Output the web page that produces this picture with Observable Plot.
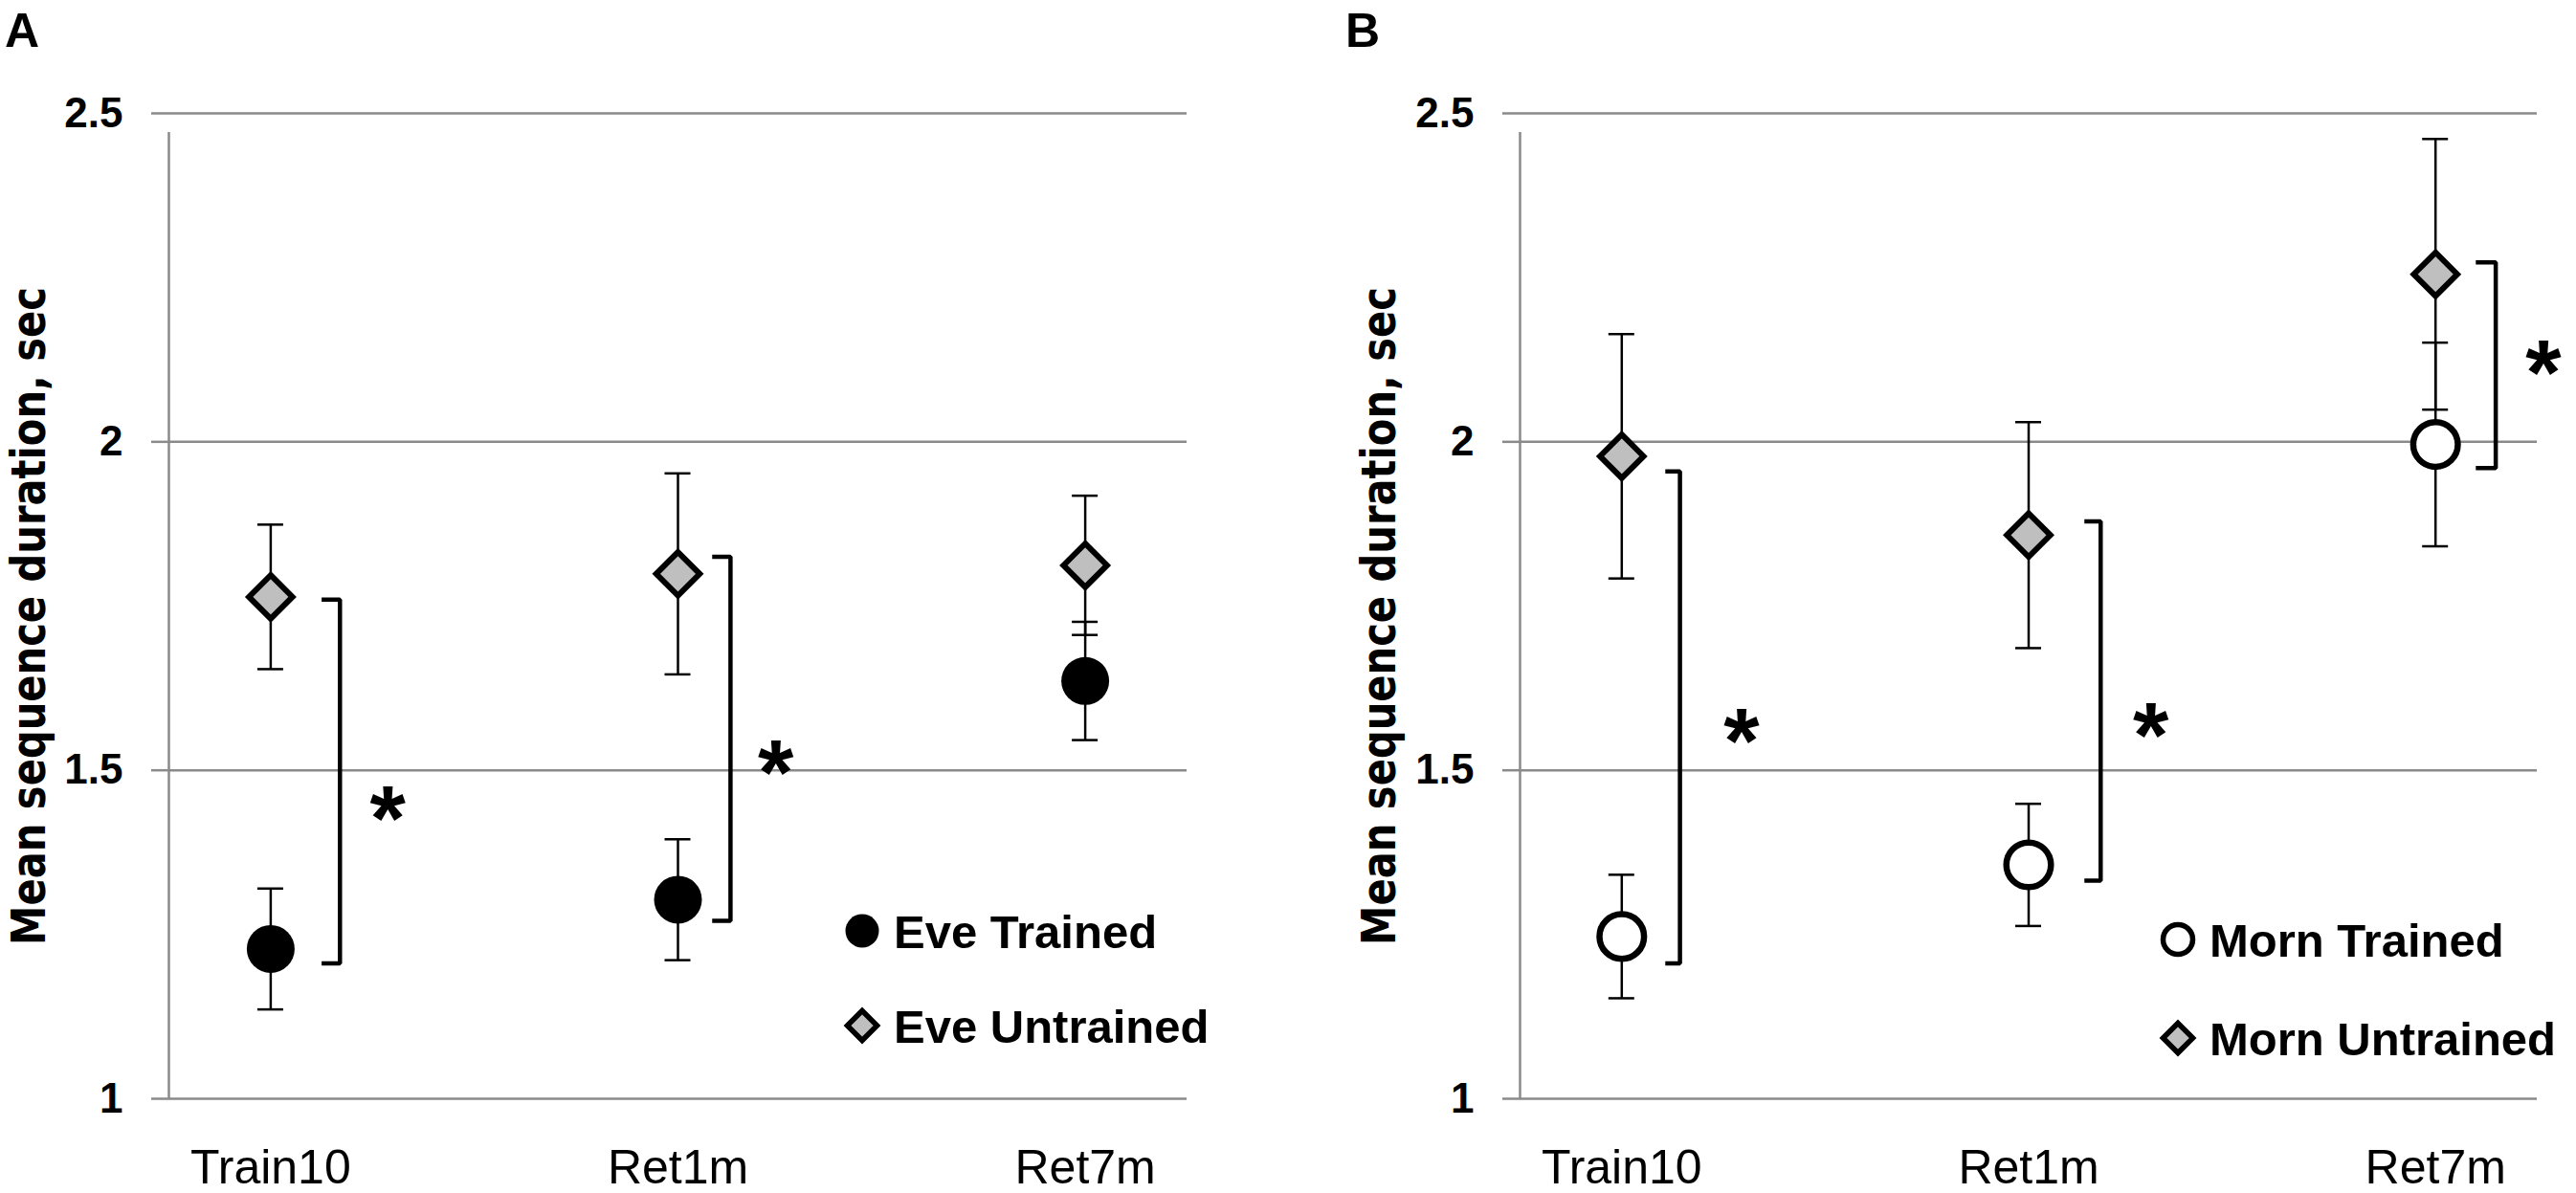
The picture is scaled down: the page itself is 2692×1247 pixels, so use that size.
<!DOCTYPE html>
<html><head><meta charset="utf-8">
<script src="https://cdn.jsdelivr.net/npm/d3@7"></script>
<script src="https://cdn.jsdelivr.net/npm/@observablehq/plot@0.6"></script>
<style>
html,body{margin:0;padding:0;background:#fff;}
#wrap{position:relative;width:2692px;height:1247px;overflow:hidden;background:#fff;}
#wrap > svg{position:absolute;top:0;overflow:visible;}
</style></head><body><div id="wrap"></div>
<script>
// ---------- data ----------
const categories = ["Train10", "Ret1m", "Ret7m"];
const xTicks = [1, 2, 3];
const yTicks = [1, 1.5, 2, 2.5];
const yTickLabels = ["1", "1.5", "2", "2.5"];
const yLabel = "Mean sequence duration, sec";

// Panel A (evening)
const eveTrainedMean   = [1.228, 1.303, 1.636];
const eveTrainedErr    = [0.092, 0.092, 0.090];
const eveUntrainedMean = [1.764, 1.799, 1.812];
const eveUntrainedErr  = [0.110, 0.153, 0.106];
const eveBracketX1     = [1.125, 2.084];
const eveBracketX2     = [1.170, 2.129];
const eveBracketTop    = [1.760, 1.825];
const eveBracketBottom = [1.206, 1.271];
const eveStarX         = [1.287, 2.240];
const eveStarY         = [1.461, 1.530];
const eveLegend        = ["Eve Trained", "Eve Untrained"];

// Panel B (morning)
const mornTrainedMean   = [1.247, 1.356, 1.996];
const mornTrainedErr    = [0.094, 0.093, 0.155];
const mornUntrainedMean = [1.978, 1.858, 2.255];
const mornUntrainedErr  = [0.186, 0.172, 0.206];
const mornBracketX1     = [1.107, 2.137, 3.099];
const mornBracketX2     = [1.143, 2.177, 3.148];
const mornBracketTop    = [1.955, 1.879, 2.273];
const mornBracketBottom = [1.206, 1.332, 1.960];
const mornStarX         = [1.294, 2.300, 3.265];
const mornStarY         = [1.578, 1.587, 2.139];
const mornLegend        = ["Morn Trained", "Morn Untrained"];

// ---------- drawing ----------
const GRID = "#8a8a8a";
const DIAMOND_FILL = "#bfbfbf";
const FONT = "'Liberation Sans', Arial, sans-serif";
const xDomain = [0.75, 3.25];
const yDomain = [1, 2.5];
const W = 1346, H = 1247, MT = 118, MB = 99;

function makePanel(p) {
  const plotW = W - p.ml - p.mr;
  const cap = 13.5 / (plotW / (xDomain[1] - xDomain[0]));
  const trained = xTicks.map((x, i) => ({x, mean: p.tMean[i], err: p.tErr[i]}));
  const untrained = xTicks.map((x, i) => ({x, mean: p.uMean[i], err: p.uErr[i]}));
  const all = trained.concat(untrained);
  const bracket = [];
  p.bx1.forEach((x1, i) => {
    const x2 = p.bx2[i], t = p.bTop[i], b = p.bBot[i];
    bracket.push({id: i, x: x1, y: t}, {id: i, x: x2, y: t}, {id: i, x: x2, y: b}, {id: i, x: x1, y: b});
  });
  const stars = p.sx.map((x, i) => ({x, y: p.sy[i]}));

  const trainedDot = p.open
    ? Plot.dot(trained, {x: "x", y: "mean", r: 23.3, fill: "white", stroke: "black", strokeWidth: 6.5})
    : Plot.dot(trained, {x: "x", y: "mean", r: 25, fill: "black"});

  const svg = Plot.plot({
    width: W, height: H,
    marginLeft: p.ml, marginRight: p.mr, marginTop: MT, marginBottom: MB,
    x: {domain: xDomain},
    y: {domain: yDomain},
    style: {fontFamily: FONT, background: "white", overflow: "visible"},
    marks: [
      Plot.ruleY(yTicks, {stroke: GRID, strokeWidth: 2.5}),
      Plot.axisY({ticks: yTicks, tickFormat: d => yTickLabels[yTicks.indexOf(d)], tickSize: 18, tickPadding: 30,
                  stroke: GRID, strokeWidth: 2.5, fill: "black", fontSize: 44, fontWeight: "bold", label: null}),
      Plot.ruleX([xDomain[0]], {y1: yDomain[0], y2: yDomain[1], insetBottom: -20, stroke: GRID, strokeWidth: 2.5}),
      Plot.axisX({ticks: xTicks, tickFormat: d => categories[d - 1], tickSize: 0, tickPadding: 53,
                  fontSize: 50, fill: "black", label: null}),
      Plot.ruleX(all, {x: "x", y1: d => d.mean - d.err, y2: d => d.mean + d.err, stroke: "black", strokeWidth: 2.5}),
      Plot.ruleY(all, {y: d => d.mean + d.err, x1: d => d.x - cap, x2: d => d.x + cap, stroke: "black", strokeWidth: 2.5}),
      Plot.ruleY(all, {y: d => d.mean - d.err, x1: d => d.x - cap, x2: d => d.x + cap, stroke: "black", strokeWidth: 2.5}),
      Plot.line(bracket, {x: "x", y: "y", z: "id", stroke: "black", strokeWidth: 4.5, strokeLinejoin: "miter", strokeLinecap: "butt"}),
      Plot.text(stars, {x: "x", y: "y", text: () => "*", fontSize: 96, fontWeight: "bold", fill: "black", dy: 25}),
      Plot.dot(untrained, {x: "x", y: "mean", symbol: "diamond2", r: 20.5, fill: DIAMOND_FILL, stroke: "black", strokeWidth: 6}),
      trainedDot
    ]
  });

  const s = d3.select(svg);
  // panel letter
  s.append("text").attr("x", p.letterX).attr("y", 49).attr("text-anchor", "start")
    .attr("font-family", FONT).attr("font-weight", "bold")
    .attr("font-size", 50).attr("fill", "black").text(p.letter);
  // y-axis title
  s.append("text").attr("transform", `translate(${p.titleX},644) rotate(-90)`)
    .attr("text-anchor", "middle")
    .attr("font-family", "'DejaVu Sans', sans-serif").attr("font-weight", "bold")
    .attr("font-size", 49).attr("fill", "black")
    .attr("textLength", 688).attr("lengthAdjust", "spacingAndGlyphs")
    .text(yLabel);
  // legend
  const lg = s.append("g");
  const c1 = p.legendY[0], c2 = p.legendY[1];
  if (p.open) {
    lg.append("circle").attr("cx", p.legendX).attr("cy", c1).attr("r", 15.5)
      .attr("fill", "white").attr("stroke", "black").attr("stroke-width", 5.5);
  } else {
    lg.append("circle").attr("cx", p.legendX).attr("cy", c1).attr("r", 17.5).attr("fill", "black");
  }
  lg.append("path").attr("d", d3.symbol(d3.symbolDiamond2, Math.PI * 14 * 14)())
    .attr("transform", `translate(${p.legendX},${c2})`)
    .attr("fill", DIAMOND_FILL).attr("stroke", "black").attr("stroke-width", 5.5);
  p.legend.forEach((t, i) => {
    lg.append("text").attr("x", p.legendX + 33).attr("y", p.legendY[i] + 17.5).attr("text-anchor", "start")
      .attr("font-family", FONT).attr("font-weight", "bold")
      .attr("font-size", 49).attr("fill", "black").text(t);
  });

  svg.style.left = p.left + "px";
  document.getElementById("wrap").appendChild(svg);
}

makePanel({
  letter: "A", left: 0, ml: 176, mr: 106, letterX: 5, titleX: 47,
  tMean: eveTrainedMean, tErr: eveTrainedErr, uMean: eveUntrainedMean, uErr: eveUntrainedErr,
  bx1: eveBracketX1, bx2: eveBracketX2, bTop: eveBracketTop, bBot: eveBracketBottom,
  sx: eveStarX, sy: eveStarY, legend: eveLegend, legendX: 901, legendY: [973, 1072], open: false
});
makePanel({
  letter: "B", left: 1346, ml: 242, mr: 41, letterX: 60, titleX: 112,
  tMean: mornTrainedMean, tErr: mornTrainedErr, uMean: mornUntrainedMean, uErr: mornUntrainedErr,
  bx1: mornBracketX1, bx2: mornBracketX2, bTop: mornBracketTop, bBot: mornBracketBottom,
  sx: mornStarX, sy: mornStarY, legend: mornLegend, legendX: 930, legendY: [982, 1085], open: true
});
</script>
</body></html>
